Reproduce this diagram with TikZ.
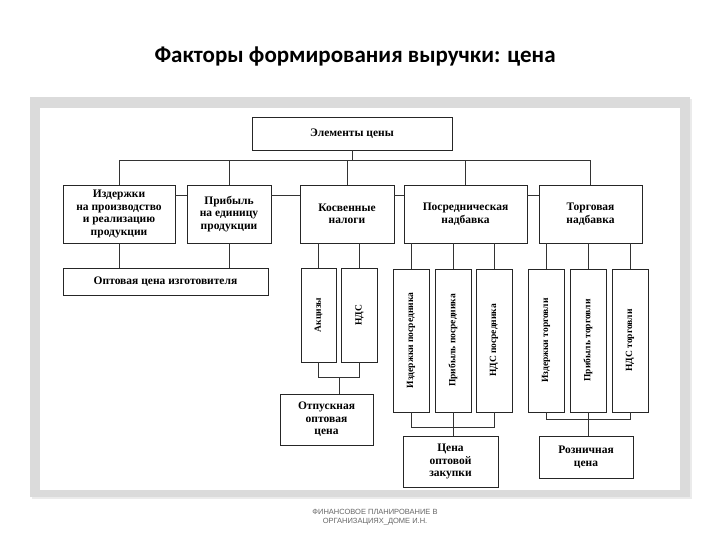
\documentclass[tikz,border=0pt]{standalone}
\usepackage{fontspec}
\setmainfont{Liberation Serif}
\newfontfamily\titlefont{Carlito}
\newfontfamily\footfont{Liberation Sans}
\begin{document}
\begin{tikzpicture}[x=1pt,y=-1pt,
  box/.style={draw=black!85,line width=0.9pt,fill=white,inner sep=1pt,align=center,font=\bfseries\fontsize{11.5}{12.5}\selectfont},
  vbox/.style={box,rotate=90,font=\bfseries\fontsize{9.5}{10}\selectfont},
  conn/.style={draw=black!80,line width=0.9pt}]
\useasboundingbox (0,0) rectangle (720,540);
\fill[white] (0,0) rectangle (720,540);
% frame
\fill[black!8] (32,99) rectangle (692,499);
\fill[black!14] (30,97) rectangle (690,497);
\fill[white] (40,108) rectangle (680,490);
\node[font=\titlefont\bfseries\fontsize{23}{26}\selectfont] (title) at (355,57) {Факторы формирования выручки: цена};
% nodes
\node[box,minimum width=200pt,minimum height=33pt] (el) at (352,133.5) {Элементы цены};
\node[box,minimum width=112pt,minimum height=58pt] (b1) at (119,214) {Издержки\\на производство\\и реализацию\\продукции};
\node[box,minimum width=84pt,minimum height=58pt] (b2) at (229,214) {Прибыль\\на единицу\\продукции};
\node[box,minimum width=94pt,minimum height=58pt] (b3) at (347,214) {Косвенные\\налоги};
\node[box,minimum width=123pt,minimum height=58pt] (b4) at (465.5,214) {Посредническая\\надбавка};
\node[box,minimum width=103pt,minimum height=58pt] (b5) at (590.5,214) {Торговая\\надбавка};
\node[box,minimum width=205pt,minimum height=27pt] (opt) at (165.5,281.5) {Оптовая цена изготовителя};
\node[vbox,minimum width=94pt,minimum height=35pt] (a1) at (318.5,315) {Акцизы};
\node[vbox,minimum width=94pt,minimum height=36pt] (a2) at (359.5,315) {НДС};
\node[vbox,minimum width=143pt,minimum height=36pt] (p1) at (411,340.5) {Издержки посредника};
\node[vbox,minimum width=143pt,minimum height=36pt] (p2) at (453,340.5) {Прибыль посредника};
\node[vbox,minimum width=143pt,minimum height=36pt] (p3) at (494,340.5) {НДС посредника};
\node[vbox,minimum width=143pt,minimum height=36pt] (t1) at (546,340.5) {Издержки торговли};
\node[vbox,minimum width=143pt,minimum height=36pt] (t2) at (588,340.5) {Прибыль торговли};
\node[vbox,minimum width=143pt,minimum height=36pt] (t3) at (630,340.5) {НДС торговли};
\node[box,minimum width=93pt,minimum height=51pt] (otp) at (326.5,419.5) {Отпускная\\оптовая\\цена};
\node[box,minimum width=95pt,minimum height=51pt] (zak) at (450.5,461.5) {Цена\\оптовой\\закупки};
\node[box,minimum width=94pt,minimum height=42pt] (roz) at (586,457) {Розничная\\цена};
% top tree
\coordinate (hl) at (119,160);
\coordinate (hr) at (590.5,160);
\draw[conn] (hl) -- (hr);
\draw[conn] (el.south) -- (el.south |- hl);
\foreach \n in {b1,b2,b3,b4,b5} \draw[conn] (\n.north) -- (\n.north |- hl);
\draw[conn] ([yshift=19pt]b1.east) -- ([yshift=19pt]b2.west);
\draw[conn] ([yshift=19pt]b2.east) -- ([yshift=19pt]b3.west);
\draw[conn] ([yshift=19pt]b3.east) -- ([yshift=19pt]b4.west);
\draw[conn] ([yshift=19pt]b4.east) -- ([yshift=19pt]b5.west);
% to opt
\draw[conn] (b1.south) -- (b1.south |- opt.north);
\draw[conn] (b2.south) -- (b2.south |- opt.north);
% children
\foreach \n in {a1,a2} \draw[conn] (\n.east) -- (\n.east |- b3.south);
\foreach \n in {p1,p2,p3} \draw[conn] (\n.east) -- (\n.east |- b4.south);
\foreach \n in {t1,t2,t3} \draw[conn] (\n.east) -- (\n.east |- b5.south);
% brackets
\draw[conn] (a1.west) -- ++(0,15) -| (a2.west);
\coordinate (ka) at (339,377);
\draw[conn] (ka) -- (ka |- otp.north);
\draw[conn] (p1.west) -- ++(0,15) -| (p3.west);
\draw[conn] (p2.west) -- (p2.west |- zak.north);
\draw[conn] (t1.west) -- ++(0,7) -| (t3.west);
\draw[conn] (t2.west) -- (t2.west |- roz.north);
% footer
\node[font=\footfont\fontsize{7.5}{9.5}\selectfont,text=black!60,align=center] (foot) at (375,517) {ФИНАНСОВОЕ ПЛАНИРОВАНИЕ В\\ОРГАНИЗАЦИЯХ\_ДОМЕ И.Н.};
\end{tikzpicture}
\end{document}
